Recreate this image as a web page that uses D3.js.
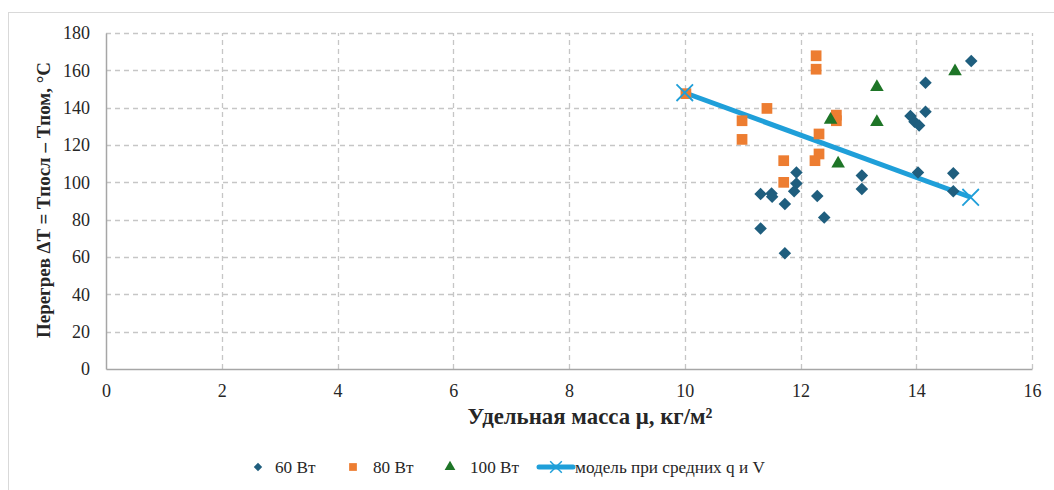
<!DOCTYPE html>
<html><head><meta charset="utf-8">
<script src="https://cdn.jsdelivr.net/npm/d3@7"></script>
<style>body{margin:0;background:#fff;} svg{display:block;} svg text{font-family:"Liberation Serif","Times New Roman","DejaVu Serif",serif;}</style>
</head><body><svg id="c" width="1054" height="490"></svg>
<script>
const xTicks = [0,2,4,6,8,10,12,14,16];
const yTicks = [0,20,40,60,80,100,120,140,160,180];
const s60x = [11.93,11.93,11.89,11.31,11.50,11.51,11.73,12.29,12.41,11.31,11.73,13.06,13.06,14.95,14.16,14.16,13.90,13.97,14.05,14.03,14.64,14.64];
const s60y = [105.3,99.4,95.2,93.7,94.0,92.3,88.4,92.7,81.2,75.3,62.0,103.6,96.4,165.0,153.4,137.8,135.5,132.5,130.4,105.3,104.8,95.2];
const s80x = [10.02,10.99,10.99,11.42,11.71,11.71,12.27,12.27,12.32,12.32,12.25,12.62,12.62];
const s80y = [147.5,133.0,123.0,139.6,111.6,100.0,167.8,160.6,125.9,115.2,111.6,136.0,133.0];
const s100x = [14.67,13.32,13.32,12.65,12.52];
const s100y = [159.5,151.0,132.3,110.0,133.5];
const modelX = [10.0,14.94];
const modelY = [148.0,92.0];
const legendLabels = ["60 Вт","80 Вт","100 Вт","модель при средних q и V"];

const svg = d3.select("#c");
svg.append("rect").attr("x",8.5).attr("y",12.5).attr("width",1100).attr("height",600)
  .attr("fill","none").attr("stroke","#d9d9d9").attr("stroke-width",1);

const x = d3.scaleLinear().domain([0,16]).range([106,1032]);
const y = d3.scaleLinear().domain([0,180]).range([369,33]);

// helper: size text to a measured target width
function fitSize(sample, weight, target){
  const t = svg.append("text").style("font-size","20px").attr("font-weight",weight).text(sample);
  const w = t.node().getComputedTextLength(); t.remove();
  return 20*target/w;
}
const tickFs = fitSize("180","normal",27);
const xtFs = fitSize("Удельная масса μ, кг/м²","bold",245);
const ytFs = fitSize("Перегрев ΔT = Tпосл – Tпом, °C","bold",276);
const legFs = fitSize(legendLabels[3],"normal",190);

const g = svg.append("g");
g.selectAll(".hg").data(yTicks.filter(d=>d>0)).enter().append("line")
  .attr("x1",x(0)).attr("x2",x(16)).attr("y1",d=>Math.round(y(d))+0.5).attr("y2",d=>Math.round(y(d))+0.5)
  .attr("stroke","#c6c6c6").attr("stroke-width",1.3).attr("stroke-dasharray","5,4");
g.selectAll(".vg").data(xTicks.filter(d=>d>0)).enter().append("line")
  .attr("y1",y(0)).attr("y2",y(180)).attr("x1",d=>Math.round(x(d))+0.5).attr("x2",d=>Math.round(x(d))+0.5)
  .attr("stroke","#c6c6c6").attr("stroke-width",1.3).attr("stroke-dasharray","5,4");

const xa = svg.append("g").attr("transform",`translate(0,${y(0)})`)
  .call(d3.axisBottom(x).tickValues(xTicks).tickSize(0).tickPadding(15));
const ya = svg.append("g").attr("transform",`translate(${x(0)},0)`)
  .call(d3.axisLeft(y).tickValues(yTicks).tickSize(0).tickPadding(16));
[xa,ya].forEach(a=>{
  a.attr("font-family",null);
  a.select(".domain").attr("stroke","#a6a6a6").attr("stroke-width",1.5);
  a.selectAll("text").style("font-size",tickFs+"px").attr("fill","#262626");
});

svg.append("text").attr("x",590).attr("y",424).attr("text-anchor","middle")
  .style("font-size",xtFs+"px").attr("font-weight","bold").attr("fill","#262626")
  .text("Удельная масса μ, кг/м²");
svg.append("text").attr("transform","translate(50,200) rotate(-90)").attr("text-anchor","middle")
  .style("font-size",ytFs+"px").attr("font-weight","bold").attr("fill","#262626")
  .text("Перегрев ΔT = Tпосл – Tпом, °C");

const c60 = "#1f5e7e", c80 = "#ed7d31", c100 = "#1e7527", cModel = "#1f9fd9";

svg.append("path").datum(d3.zip(modelX,modelY))
  .attr("d",d3.line().x(d=>x(d[0])).y(d=>y(d[1])))
  .attr("stroke",cModel).attr("stroke-width",5).attr("fill","none");

const sym = (type,size)=>d3.symbol().type(type).size(size);
function pts(xs,ys,type,size,color){
  svg.append("g").selectAll("path").data(d3.zip(xs,ys)).enter().append("path")
    .attr("d",sym(type,size)()).attr("transform",d=>`translate(${x(d[0])},${y(d[1])})`)
    .attr("fill",color);
}
pts(s80x,s80y,d3.symbolSquare,115,c80);
pts(s60x,s60y,d3.symbolDiamond2,100,c60);
pts(s100x,s100y,d3.symbolTriangle,80,c100);

svg.append("g").selectAll("path").data(d3.zip(modelX,modelY)).enter().append("path")
  .attr("d",d3.symbol().type(d3.symbolX).size(180)())
  .attr("transform",d=>`translate(${x(d[0])},${y(d[1])})`)
  .attr("stroke",cModel).attr("stroke-width",1.8).attr("fill","none");

const ly = 467;
const L = svg.append("g");
L.append("path").attr("d",sym(d3.symbolDiamond2,45)()).attr("transform",`translate(258,${ly})`).attr("fill",c60);
L.append("path").attr("d",sym(d3.symbolSquare,60)()).attr("transform",`translate(353,${ly})`).attr("fill",c80);
L.append("path").attr("d",sym(d3.symbolTriangle,50)()).attr("transform",`translate(450,${ly})`).attr("fill",c100);
L.append("line").attr("x1",539).attr("x2",573).attr("y1",ly).attr("y2",ly).attr("stroke",cModel).attr("stroke-width",5).attr("stroke-linecap","round");
L.append("path").attr("d",d3.symbol().type(d3.symbolX).size(90)()).attr("transform",`translate(556,${ly})`).attr("stroke",cModel).attr("stroke-width",1.5).attr("fill","none");
const lx = [275,373,470,575];
legendLabels.forEach((t,i)=>{
  L.append("text").attr("x",lx[i]).attr("y",ly+6).style("font-size",legFs+"px").attr("fill","#262626").text(t);
});
</script></body></html>
